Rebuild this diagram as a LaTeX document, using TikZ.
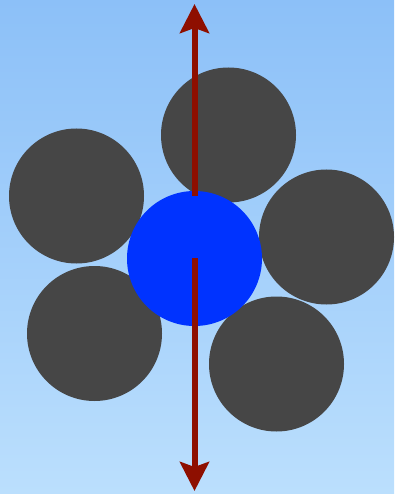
\documentclass[tikz,border=0pt]{standalone}
\usetikzlibrary{arrows.meta}
\definecolor{bgtop}{HTML}{8CC0F8}
\definecolor{bgbot}{HTML}{BBDFFD}
\definecolor{ball}{HTML}{464646}
\definecolor{core}{HTML}{0033FF}
\definecolor{arr}{HTML}{8E0F00}
\begin{document}
\begin{tikzpicture}[x=1pt,y=-1pt,
  ballstyle/.style={circle,fill=ball,minimum size=135pt,inner sep=0pt},
  corestyle/.style={circle,fill=core,minimum size=135pt,inner sep=0pt},
  arrstyle/.style={draw=arr,line width=6pt,-{Stealth[length=29pt,width=29pt,inset=5pt]}}]
\shade[top color=bgtop,bottom color=bgbot] (0,0) rectangle (394,494);
\useasboundingbox (0,0) rectangle (394,494);
\node[ballstyle] (t) at (228.5,135) {};
\node[ballstyle] (l) at (76.5,196) {};
\node[ballstyle] (r) at (326.5,237) {};
\node[ballstyle] (bl) at (94.5,333.5) {};
\node[ballstyle] (br) at (276.5,364) {};
\node[corestyle] (c) at (194.5,258.5) {};
\coordinate (us) at (194.5,196);
\coordinate (ue) at (194.5,4);
\coordinate (ds) at (194.5,258);
\coordinate (de) at (194.5,491);
\draw[arrstyle] (us) -- (ue);
\draw[arrstyle] (ds) -- (de);
\end{tikzpicture}
\end{document}
